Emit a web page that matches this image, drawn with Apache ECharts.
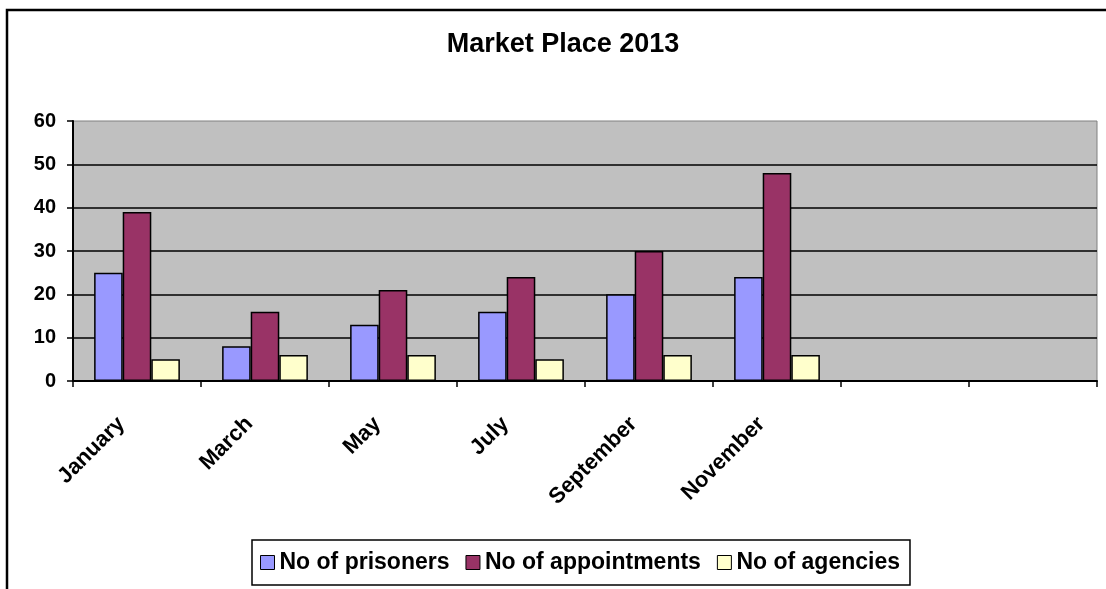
<!DOCTYPE html>
<html>
<head>
<meta charset="utf-8">
<script src="https://cdn.jsdelivr.net/npm/echarts@6/dist/echarts.min.js"></script>
<style>
  html, body { margin: 0; padding: 0; background: #fff; }
  #chart { width: 1106px; height: 589px; }
</style>
</head>
<body>
<div id="chart"></div>
<script>
// months on the category axis (two trailing empty slots, as in the sheet)
const months = ['January', 'March', 'May', 'July', 'September', 'November', '', ''];
const prisoners = [25, 8, 13, 16, 20, 24, null, null];
const appointments = [39, 16, 21, 24, 30, 48, null, null];
const agencies = [5, 6, 6, 5, 6, 6, null, null];
const seriesNames = ['No of prisoners', 'No of appointments', 'No of agencies'];
const seriesColors = ['#9999FF', '#993366', '#FFFFCC'];

const font = 'Arial, "Liberation Sans", sans-serif';
const chart = echarts.init(document.getElementById('chart'));

const barStyle = (color) => ({
  color: color,
  borderColor: '#000',
  borderWidth: 1.5
});

const option = {
  animation: false,
  backgroundColor: '#fff',
  graphic: [
    {
      // outer chart-area frame (runs off the right and bottom edge)
      type: 'rect',
      shape: { x: 7, y: 10, width: 1200, height: 700 },
      style: { fill: 'none', stroke: '#000', lineWidth: 2.5 },
      z: 100
    }
  ],
  title: {
    text: 'Market Place 2013',
    left: 563,
    textAlign: 'center',
    top: 31,
    padding: 0,
    textStyle: { fontFamily: font, fontSize: 27, fontWeight: 'bold', color: '#000' }
  },
  legend: {
    left: 252,
    top: 540,
    orient: 'horizontal',
    data: seriesNames,
    icon: 'rect',
    itemWidth: 14,
    itemHeight: 14,
    itemGap: 16,
    padding: [11, 10, 11, 8],
    borderColor: '#000',
    borderWidth: 1.5,
    itemStyle: { borderColor: '#000', borderWidth: 1 },
    textStyle: { fontFamily: font, fontSize: 23, fontWeight: 'bold', color: '#000' }
  },
  grid: {
    left: 73,
    right: 9,
    top: 121,
    bottom: 208,
    show: true,
    backgroundColor: '#C0C0C0',
    borderColor: '#808080',
    borderWidth: 1
  },
  xAxis: {
    type: 'category',
    data: months,
    axisLine: { lineStyle: { color: '#000', width: 2 } },
    axisTick: { show: true, interval: 0, length: 6, lineStyle: { color: '#000', width: 1.5 } },
    axisLabel: {
      interval: 0,
      rotate: 45,
      margin: 24,
      padding: [0, 22, 0, 0],
      fontFamily: font,
      fontSize: 22,
      fontWeight: 'bold',
      color: '#000'
    }
  },
  yAxis: {
    type: 'value',
    min: 0,
    max: 60,
    interval: 10,
    axisLine: { show: true, lineStyle: { color: '#000', width: 2 } },
    axisTick: { show: true, length: 6, lineStyle: { color: '#000', width: 1.5 } },
    axisLabel: {
      margin: 17,
      fontFamily: font,
      fontSize: 20,
      fontWeight: 'bold',
      color: '#000'
    },
    splitLine: {
      show: true,
      showMinLine: false,
      showMaxLine: false,
      lineStyle: { color: '#000', width: 1.5 }
    }
  },
  series: [
    {
      name: seriesNames[0],
      type: 'bar',
      data: prisoners,
      barGap: '0%',
      barCategoryGap: '33%',
      itemStyle: barStyle(seriesColors[0])
    },
    {
      name: seriesNames[1],
      type: 'bar',
      data: appointments,
      itemStyle: barStyle(seriesColors[1])
    },
    {
      name: seriesNames[2],
      type: 'bar',
      data: agencies,
      itemStyle: barStyle(seriesColors[2])
    }
  ]
};

chart.setOption(option);
</script>
</body>
</html>
